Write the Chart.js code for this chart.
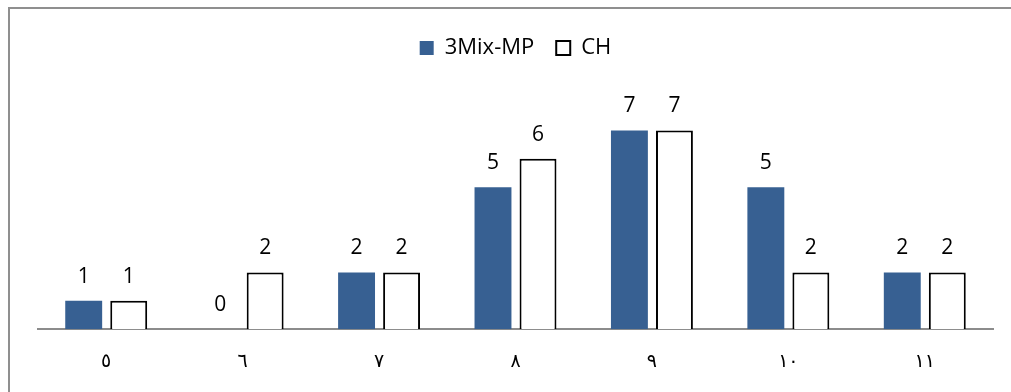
<!DOCTYPE html>
<html>
<head>
<meta charset="utf-8">
<script src="https://cdn.jsdelivr.net/npm/chart.js@4.4.1/dist/chart.umd.min.js"></script>
<style>
  html, body { margin: 0; padding: 0; background: #fff; overflow: hidden; }
  #chart { position: absolute; left: 0; top: 0; }
</style>
</head>
<body>
<canvas id="chart" width="1011" height="392"></canvas>
<script>
// categories (Arabic-Indic digits as in the original)
const categories = ['٥', '٦', '٧', '٨', '٩', '١٠', '١١'];
const mixValues = [1, 0, 2, 5, 7, 5, 2];
const chValues = [1, 2, 2, 6, 7, 2, 2];
const seriesNames = ['3Mix-MP', 'CH'];

// outer frame of the chart (left and top edges only show in the crop)
const frame = {
    id: 'frame',
    beforeDraw(chart) {
        const ctx = chart.ctx;
        ctx.save();
        ctx.strokeStyle = '#8f8f8f';
        ctx.lineWidth = 2;
        ctx.beginPath();
        ctx.moveTo(9, chart.height + 5);
        ctx.lineTo(9, 8);
        ctx.lineTo(chart.width + 5, 8);
        ctx.stroke();
        ctx.restore();
    }
};

// data labels above each bar
const barLabels = {
    id: 'barLabels',
    afterDatasetsDraw(chart) {
        const ctx = chart.ctx;
        ctx.save();
        ctx.font = '21px "Open Sans"';
        ctx.fillStyle = '#000';
        ctx.textAlign = 'center';
        ctx.textBaseline = 'alphabetic';
        chart.data.datasets.forEach((ds, i) => {
            chart.getDatasetMeta(i).data.forEach((bar, j) => {
                ctx.fillText(String(ds.data[j]), bar.x, bar.y - 18);
            });
        });
        ctx.restore();
    }
};

// extra space under the legend
const legendGap = {
    id: 'legendGap',
    beforeInit(chart) {
        const fit = chart.legend.fit;
        chart.legend.fit = function () {
            fit.call(this);
            this.height += 33;
        };
    }
};

new Chart(document.getElementById('chart'), {
    type: 'bar',
    data: {
        labels: categories,
        datasets: [{
            label: seriesNames[0],
            data: mixValues,
            backgroundColor: '#376092',
            borderWidth: 0,
            categoryPercentage: 0.66,
            barPercentage: 0.82
        }, {
            label: seriesNames[1],
            data: chValues,
            backgroundColor: '#ffffff',
            borderColor: '#000000',
            borderWidth: 2,
            categoryPercentage: 0.66,
            barPercentage: 0.82
        }]
    },
    options: {
        responsive: false,
        animation: false,
        layout: { padding: { left: 38, right: 18, top: 15, bottom: -2 } },
        plugins: {
            legend: {
                position: 'top',
                labels: {
                    boxWidth: 14,
                    boxHeight: 14,
                    padding: 22,
                    color: '#000',
                    font: { family: '"Open Sans"', size: 22 }
                }
            },
            tooltip: { enabled: false }
        },
        scales: {
            x: {
                grid: { display: false, drawTicks: false },
                border: { display: true, color: '#8c8c8c', width: 2 },
                ticks: {
                    padding: 21,
                    color: '#000',
                    font: { family: '"DejaVu Sans"', size: 19 }
                }
            },
            y: {
                display: false,
                min: 0,
                max: 8
            }
        }
    },
    plugins: [frame, barLabels, legendGap]
});
</script>
</body>
</html>
